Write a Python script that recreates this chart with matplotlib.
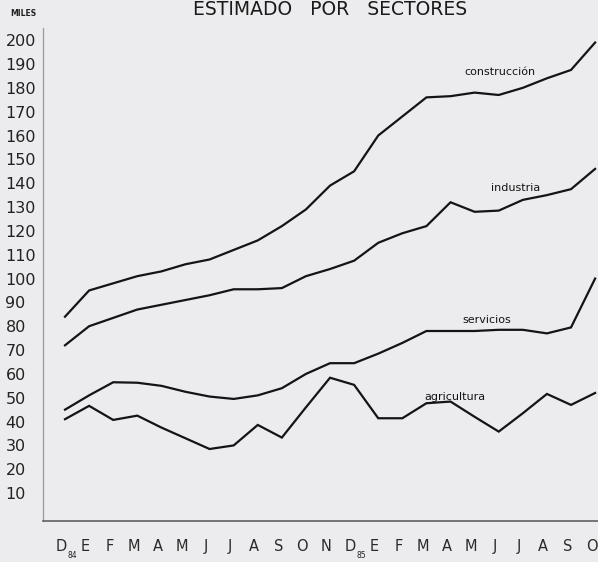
import matplotlib
matplotlib.use("Agg")
import matplotlib.pyplot as plt

months = ["D", "E", "F", "M", "A", "M", "J", "J", "A", "S", "O", "N",
          "D", "E", "F", "M", "A", "M", "J", "J", "A", "S", "O"]
year_labels = ["84", "85"]
yticks = list(range(10, 201, 10))

construccion = [84, 95, 98, 101, 103, 106, 108, 112, 116, 122, 129, 139,
                145, 160, 168, 176, 176.5, 178, 177, 180, 184, 187.5, 199]
industria = [72, 80, 83.5, 87, 89, 91, 93, 95.5, 95.5, 96, 101, 104,
             107.5, 115, 119, 122, 132, 128, 128.5, 133, 135, 137.5, 146]
servicios = [45, 51, 56.5, 56.3, 55, 52.5, 50.5, 49.5, 51, 54, 60, 64.5,
             64.5, 68.5, 73, 78, 78, 78, 78.5, 78.5, 77, 79.5, 100]
agricultura = [41, 46.6, 40.7, 42.5, 37.5, 33, 28.5, 30, 38.6, 33.3, 46, 58.4,
               55.4, 41.4, 41.4, 47.7, 48.4, 42, 35.8, 43.5, 51.6, 47, 52]

series = [("construcción", construccion, 18.05, 186.7),
          ("industria", industria, 18.7, 138),
          ("servicios", servicios, 17.5, 82.6),
          ("agricultura", agricultura, 16.2, 50.3)]

W, H = 598, 562
fig = plt.figure(figsize=(W / 100, H / 100), dpi=100)
fig.patch.set_facecolor("#ececee")

left_px, right_px, bottom_px, top_px = 43, 598, 521, 28
ax = fig.add_axes([left_px / W, (H - bottom_px) / H,
                   (right_px - left_px) / W, (bottom_px - top_px) / H])
ax.set_facecolor("#ececee")

x = list(range(len(months)))
for name, vals, lx, ly in series:
    ax.plot(x, vals, color="#141414", lw=1.6, solid_joinstyle="miter")
    ax.text(lx, ly, name, fontsize=8, color="#141414", ha="center", va="center",
            family=["DejaVu Sans"])

ax.set_xlim(-0.913, 22.12)
ax.set_ylim(-1.7, 205.1)

ax.set_yticks(yticks)
ax.set_yticklabels([str(v) for v in yticks], fontsize=11.5, color="#222222")
ax.tick_params(axis="y", length=0, pad=27)
for lab in ax.get_yticklabels():
    lab.set_ha("left")

ax.set_xticks([i - 0.15 for i in x])
ax.set_xticklabels(months, fontsize=10.5, color="#2a2a2a")
ax.tick_params(axis="x", length=0, pad=13)

for s in ["top", "right"]:
    ax.spines[s].set_visible(False)
ax.spines["left"].set_color("#9a9a9a")
ax.spines["left"].set_linewidth(0.9)
ax.spines["bottom"].set_color("#555555")
ax.spines["bottom"].set_linewidth(1.1)

# year labels just under the month letters
for pos, lab in zip([0.3, 12.3], year_labels):
    ax.text(pos, -0.069, lab, transform=ax.get_xaxis_transform(),
            fontsize=5.5, color="#222222", ha="center", va="center", clip_on=False)

fig.text(10 / W, 1 - 13 / H, "MILES", fontsize=5.5, color="#222222",
         ha="left", va="center", fontweight="bold")
fig.text(330 / W, 1 - 15 / H, "ESTIMADO   POR   SECTORES", fontsize=13.5,
         color="#1a1a1a", ha="center", va="baseline")

fig.savefig("out.png", dpi=100, facecolor=fig.get_facecolor())
